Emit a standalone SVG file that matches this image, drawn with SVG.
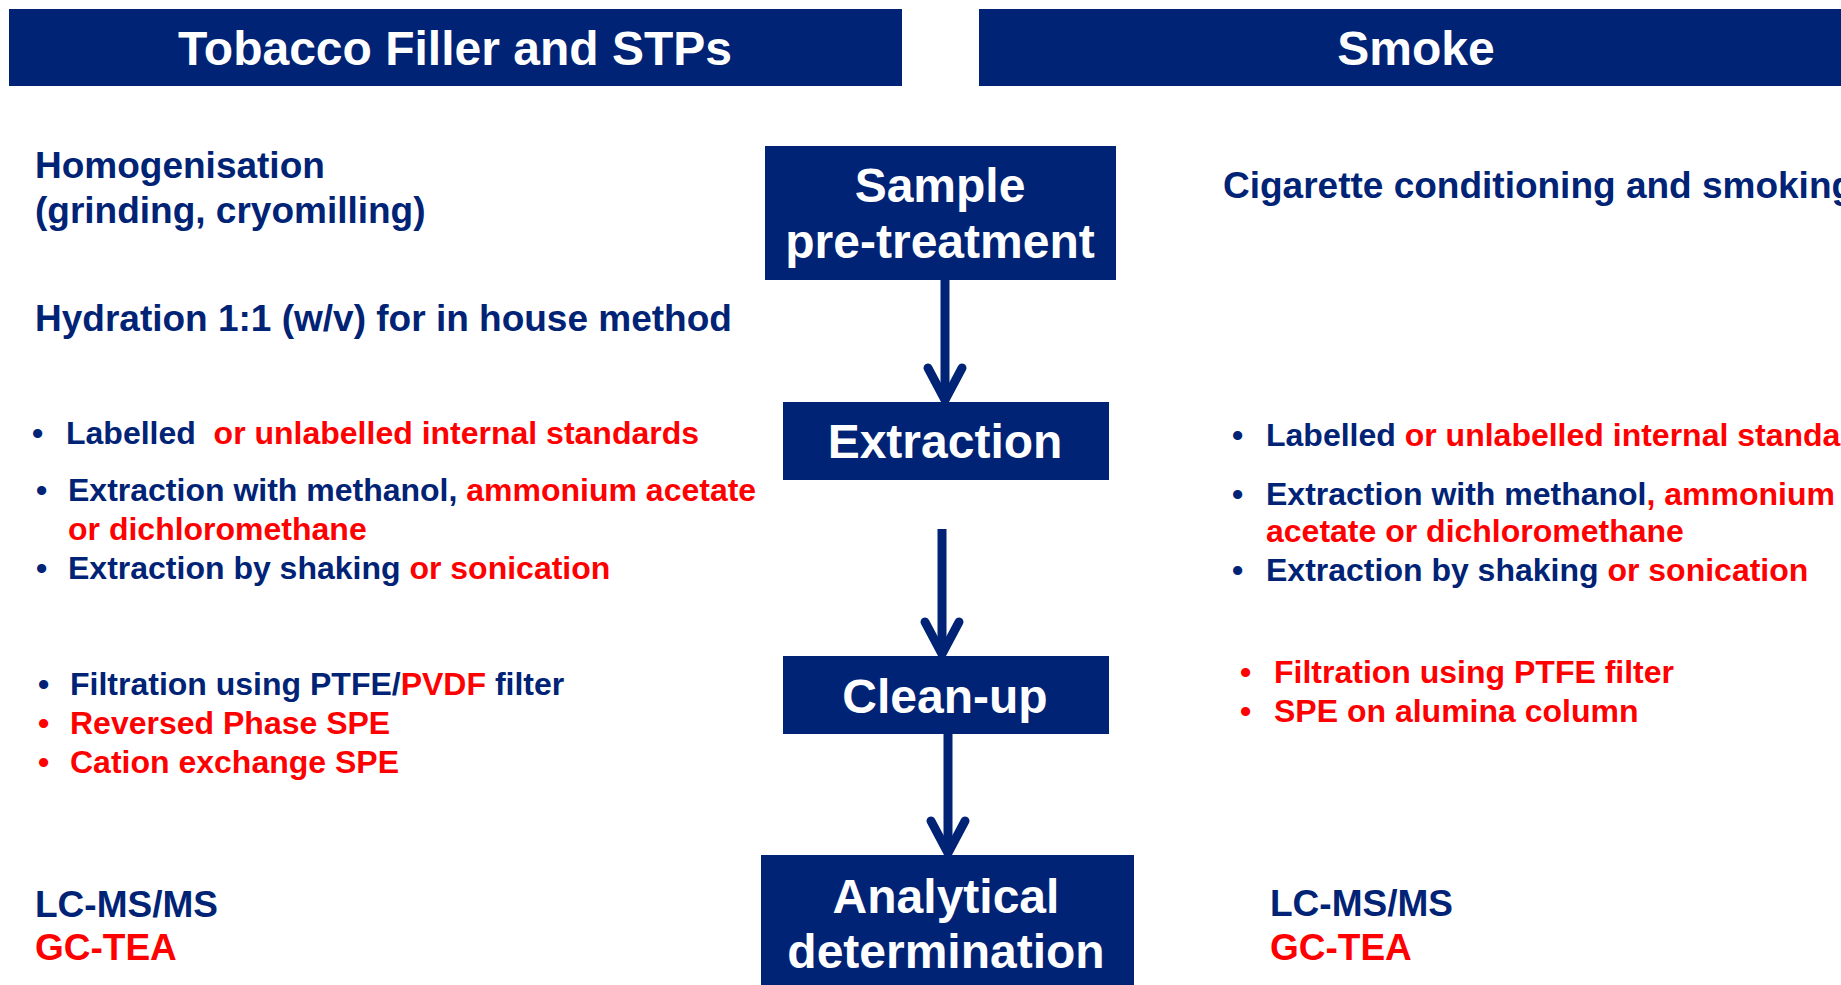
<svg xmlns="http://www.w3.org/2000/svg" width="1841" height="985" viewBox="0 0 1841 985">
<style>
text{font-family:"Liberation Sans",Arial,sans-serif;font-weight:bold}
.hdr{fill:#002376}
.box{fill:#002376}
.ht{fill:#fff;font-size:48px;text-anchor:middle}
.bt{fill:#fff;font-size:48px;text-anchor:middle}
.t37{font-size:37px;fill:#002376}
.t32{font-size:32px;fill:#002376}
.n{fill:#002376}
.r{fill:#ff0000}
.conn{stroke:#002376;stroke-width:9;fill:none}
</style>
<defs>
<marker id="chev" markerUnits="userSpaceOnUse" viewBox="-40 -25 50 50" refX="0" refY="0" markerWidth="50" markerHeight="50" orient="auto" overflow="visible">
<path d="M-32,-17 L0,0 L-32,17" fill="none" stroke="#002376" stroke-width="9" stroke-linecap="round" stroke-linejoin="miter"/>
</marker>
</defs>
<rect width="1841" height="985" fill="#fff"/>
<g id="header-left"><rect class="hdr" x="9" y="9" width="893" height="77"/><text class="ht" x="455" y="65">Tobacco Filler and STPs</text></g>
<g id="header-right"><rect class="hdr" x="979" y="9" width="862" height="77"/><text class="ht" x="1416" y="65">Smoke</text></g>

<g id="node-pretreatment"><rect class="box" x="765" y="146" width="351" height="134"/><text class="bt" x="940" y="202">Sample</text><text class="bt" x="940" y="258">pre-treatment</text></g>
<g id="node-extraction"><rect class="box" x="783" y="402" width="326" height="78"/><text class="bt" x="945" y="458">Extraction</text></g>
<g id="node-cleanup"><rect class="box" x="783" y="656" width="326" height="78"/><text class="bt" x="945" y="713">Clean-up</text></g>
<g id="node-analytical"><rect class="box" x="761" y="855" width="373" height="135"/><text class="bt" x="946" y="913">Analytical</text><text class="bt" x="946" y="968">determination</text></g>

<g id="connectors">
<line class="conn" x1="945" y1="280" x2="945" y2="400" marker-end="url(#chev)"/>
<line class="conn" x1="942" y1="529" x2="942" y2="654" marker-end="url(#chev)"/>
<line class="conn" x1="948" y1="734" x2="948" y2="853" marker-end="url(#chev)"/>
</g>

<g id="left-text">
<text class="t37" x="35" y="178">Homogenisation</text>
<text class="t37" x="35" y="223">(grinding, cryomilling)</text>
<text class="t37" x="35" y="331">Hydration 1:1 (w/v) for in house method</text>
<text class="t32" x="32" y="444">•</text>
<text class="t32" x="66" y="444" xml:space="preserve"><tspan class="n">Labelled  </tspan><tspan class="r">or unlabelled internal standards</tspan></text>
<text class="t32" x="36" y="501">•</text>
<text class="t32" x="68" y="501" xml:space="preserve"><tspan class="n">Extraction with methanol, </tspan><tspan class="r">ammonium acetate</tspan></text>
<text class="t32 r" x="68" y="540">or dichloromethane</text>
<text class="t32" x="36" y="579">•</text>
<text class="t32" x="68" y="579" xml:space="preserve"><tspan class="n">Extraction by shaking </tspan><tspan class="r">or sonication</tspan></text>
<text class="t32" x="38" y="695">•</text>
<text class="t32" x="70" y="695"><tspan class="n">Filtration using PTFE/</tspan><tspan class="r">PVDF</tspan><tspan class="n" xml:space="preserve"> filter</tspan></text>
<text class="t32 r" x="38" y="734">•</text>
<text class="t32 r" x="70" y="734">Reversed Phase SPE</text>
<text class="t32 r" x="38" y="773">•</text>
<text class="t32 r" x="70" y="773">Cation exchange SPE</text>
<text class="t37" x="35" y="917">LC-MS/MS</text>
<text class="t37 r" x="35" y="960">GC-TEA</text>
</g>

<g id="right-text">
<text class="t37" x="1223" y="198">Cigarette conditioning and smoking</text>
<text class="t32" x="1232" y="446">•</text>
<text class="t32" x="1266" y="446" xml:space="preserve"><tspan class="n">Labelled </tspan><tspan class="r">or unlabelled internal standards</tspan></text>
<text class="t32" x="1232" y="505">•</text>
<text class="t32" x="1266" y="505"><tspan class="n">Extraction with methanol</tspan><tspan class="r">, ammonium</tspan></text>
<text class="t32 r" x="1266" y="542">acetate or dichloromethane</text>
<text class="t32" x="1232" y="581">•</text>
<text class="t32" x="1266" y="581" xml:space="preserve"><tspan class="n">Extraction by shaking </tspan><tspan class="r">or sonication</tspan></text>
<text class="t32 r" x="1240" y="683">•</text>
<text class="t32 r" x="1274" y="683">Filtration using PTFE filter</text>
<text class="t32 r" x="1240" y="722">•</text>
<text class="t32 r" x="1274" y="722">SPE on alumina column</text>
<text class="t37" x="1270" y="916">LC-MS/MS</text>
<text class="t37 r" x="1270" y="960">GC-TEA</text>
</g>
</svg>
